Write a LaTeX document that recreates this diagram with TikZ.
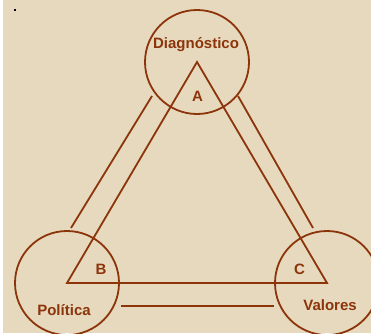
\documentclass[tikz,border=0pt]{standalone}
\usepackage{fontspec}
\setmainfont{Liberation Sans}
\definecolor{linebrown}{RGB}{140,52,10}
\definecolor{paper}{RGB}{230,217,190}
\tikzset{
  ring/.style={circle, draw=linebrown, line width=1.8pt, minimum size=104pt, inner sep=0pt},
  word/.style={anchor=base, text=linebrown, font=\fontsize{15}{15}\selectfont\bfseries, inner sep=0pt},
  bar/.style={draw=linebrown, line width=1.8pt}
}
\begin{document}
\begin{tikzpicture}[x=1pt, y=-1pt]

  \useasboundingbox (0,0) rectangle (371,333);
  \clip (0,0) rectangle (371,333);
  \fill[white] (0,0) rectangle (3,333);
  \fill[paper] (3,0) rectangle (371,333);
  \fill[black] (14,9) rectangle (16,11);

  %% corners of the triangle
  \coordinate (A) at (197,62);
  \coordinate (B) at (67,283);
  \coordinate (C) at (327,283);

  \node[ring] (diag) at (A) {};
  \node[ring] (pol)  at (B) {};
  \node[ring] (val)  at (C) {};

  \draw[bar] (A) -- (B) -- (C) -- cycle;

  %% outer lines between the circles
  \coordinate (ab1) at (71,228);  \coordinate (ab2) at (152,96);
  \coordinate (ac1) at (238,96);  \coordinate (ac2) at (313,228);
  \coordinate (bc1) at (121,306); \coordinate (bc2) at (274,306);
  \draw[bar] (ab1) -- (ab2); %% A-B
  \draw[bar] (ac1) -- (ac2); %% A-C
  \draw[bar] (bc1) -- (bc2); %% B-C

  \node[word] (tdiag) at (196,48) {Diagnóstico};
  \node[word] (tpol)  at (64,315) {Política};
  \node[word] (tval)  at (330,310) {Valores};
  \node[word] (la) at (197.5,101.5) {A};
  \node[word] (lb) at (101,274) {B};
  \node[word] (lc) at (299.5,274) {C};
\end{tikzpicture}
\end{document}
